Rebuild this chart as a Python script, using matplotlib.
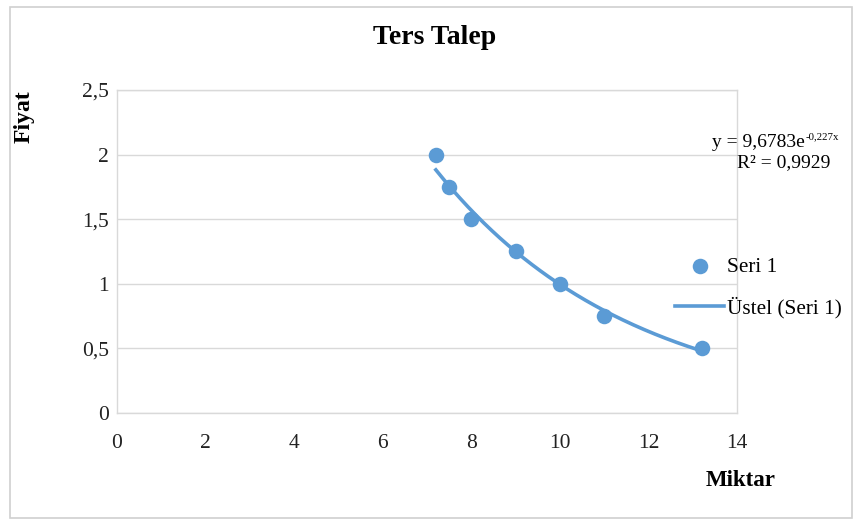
import numpy as np
import matplotlib
matplotlib.use("Agg")
import matplotlib.pyplot as plt
from matplotlib.patches import Rectangle

# Data
miktar = [7.2, 7.5, 8, 9, 10, 11, 13.2]
fiyat = [2.0, 1.75, 1.5, 1.25, 1.0, 0.75, 0.5]
x_ticks = [0, 2, 4, 6, 8, 10, 12, 14]
y_ticks = [0, 0.5, 1, 1.5, 2, 2.5]
y_ticklabels = ["0", "0,5", "1", "1,5", "2", "2,5"]
title = "Ters Talep"
series_name = "Seri 1"
trend_name = "Üstel (Seri 1)"
eq_base = "y = 9,6783e"
eq_sup = "-0,227x"
r2_text = "R² = 0,9929"

plt.rcParams['font.family'] = ['Liberation Serif', 'DejaVu Serif']

color = '#5B9BD5'
fig = plt.figure(figsize=(8.62, 5.25), dpi=100)
ax = fig.add_axes([117/862, 1-413/525, 620/862, 323/525])

# exponential trendline (least squares on log y, as Excel does)
b, lna = np.polyfit(miktar, np.log(fiyat), 1)
xt = np.linspace(min(miktar), max(miktar), 200)
yt = np.exp(lna) * np.exp(b * xt)
ax.plot(xt, yt, color=color, lw=2.6, label=trend_name, zorder=3)
ax.scatter(miktar, fiyat, s=125, color=color, label=series_name, zorder=4, linewidths=0)

ax.set_xlim(0, 14)
ax.set_ylim(0, 2.5)
ax.set_xticks(x_ticks)
ax.set_xticklabels([str(v) for v in x_ticks])
ax.set_yticks(y_ticks)
ax.set_yticklabels(y_ticklabels)
ax.tick_params(length=0, labelsize=15.5, colors='#222222')
ax.tick_params(axis='x', pad=15)
ax.tick_params(axis='y', pad=6)
ax.grid(axis='y', color='#d9d9d9', lw=1)
ax.set_axisbelow(True)
for s in ax.spines.values():
    s.set_color('#d9d9d9')
    s.set_linewidth(1)

fig.text(435/862, 1-38/525, title, ha='center', va='center', fontsize=20, fontweight='bold')
fig.text(24/862, 1-117/525, "Fiyat", ha='center', va='center', rotation=90, fontsize=17, fontweight='bold')
fig.text(741/862, 1-480/525, "Miktar", ha='center', va='center', fontsize=16.5, fontweight='bold')

# equation with superscript
sup = fig.text(839/862, 1-137/525, eq_sup, ha='right', va='center', fontsize=7.8)
fig.canvas.draw()
bb = sup.get_window_extent(fig.canvas.get_renderer())
fig.text((bb.x0 - 1) / fig.bbox.width, 1-142/525, eq_base, ha='right', va='center', fontsize=14)
fig.text(830/862, 1-163/525, r2_text, ha='right', va='center', fontsize=14)

handles, labels = ax.get_legend_handles_labels()
order = [1, 0]
ax.legend([handles[i] for i in order], [labels[i] for i in order],
          loc='center left', bbox_to_anchor=(656/862, 1-288/525),
          bbox_transform=fig.transFigure, frameon=False, fontsize=15.3,
          handlelength=2.3, handletextpad=0.15, labelspacing=0.95, scatterpoints=1)

fig.patches.append(Rectangle((10/862, 7/525), 842/862, 511/525, transform=fig.transFigure,
                             fill=False, edgecolor='#d0d0d0', lw=1.2))

fig.savefig("out.png", dpi=100)
